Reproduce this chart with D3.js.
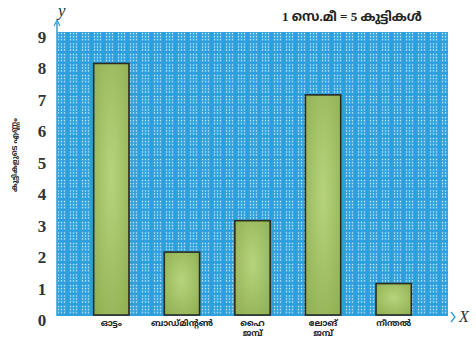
<!DOCTYPE html>
<html>
<head>
<meta charset="utf-8">
<script src="https://cdnjs.cloudflare.com/ajax/libs/d3/7.8.5/d3.min.js"></script>
<style>
  body { margin: 0; background: #fff; }
  svg { display: block; }
</style>
</head>
<body>
<svg width="476" height="340"></svg>
<script>
// chart data
var categories = ["ഓട്ടം", "ബാഡ്മിന്റൺ", "ഹൈ\nജമ്പ്", "ലോങ്\nജമ്പ്", "നീന്തൽ"];
var values = [8, 2, 3, 7, 1];
var yTicks = [0, 1, 2, 3, 4, 5, 6, 7, 8, 9];
var yLabel = "കുട്ടികളുടെ എണ്ണം";
var scaleNote = "1 സെ.മീ = 5 കുട്ടികൾ";

var svg = d3.select("svg");
var plotLeft = 57, plotRight = 448, plotTop = 32, plotBottom = 315;

var x = d3.scaleBand()
    .domain(categories)
    .range([plotLeft, plotRight])
    .paddingInner(0.5)
    .paddingOuter(0.52);

var y = d3.scaleLinear()
    .domain([0, 9])
    .range([plotBottom, plotTop]);

var defs = svg.append("defs");

// blue dotted graph-paper look
var pat = defs.append("pattern")
    .attr("id", "grid")
    .attr("patternUnits", "userSpaceOnUse")
    .attr("width", 12).attr("height", 10.5)
    .attr("x", plotLeft).attr("y", plotTop);
pat.append("rect").attr("width", 12).attr("height", 10.5).attr("fill", "#2c9fdc");
[1.5, 4.5, 7.5].forEach(function(px) {
    [1.5, 4.5, 7.5].forEach(function(py) {
        pat.append("rect").attr("x", px - 0.7).attr("y", py - 0.7)
            .attr("width", 1.4).attr("height", 1.4).attr("fill", "#cfe9f7");
    });
});

var grad = defs.append("radialGradient").attr("id", "barFill")
    .attr("cx", "50%").attr("cy", "45%").attr("r", "70%");
grad.append("stop").attr("offset", "0%").attr("stop-color", "#b7d47c");
grad.append("stop").attr("offset", "100%").attr("stop-color", "#90b052");

svg.append("rect")
    .attr("x", plotLeft).attr("y", plotTop)
    .attr("width", plotRight - plotLeft).attr("height", plotBottom - plotTop + 1)
    .attr("fill", "url(#grid)");

// bars
svg.selectAll(".bar")
    .data(values)
    .enter()
    .append("rect")
    .attr("class", "bar")
    .attr("x", function(d, i) { return x(categories[i]); })
    .attr("y", function(d) { return y(d); })
    .attr("width", x.bandwidth())
    .attr("height", function(d) { return y(0) - y(d); })
    .attr("fill", "url(#barFill)")
    .attr("stroke", "#2b2b22")
    .attr("stroke-width", 1.6);

// y axis line + arrow
svg.append("line")
    .attr("x1", plotLeft).attr("x2", plotLeft)
    .attr("y1", plotBottom + 1).attr("y2", 22)
    .attr("stroke", "#2c9fdc").attr("stroke-width", 1.5);
svg.append("path")
    .attr("d", "M" + (plotLeft - 3) + ",26 L" + plotLeft + ",20 L" + (plotLeft + 3) + ",26")
    .attr("fill", "none").attr("stroke", "#2c9fdc").attr("stroke-width", 1.2);
svg.append("text")
    .attr("x", plotLeft + 1).attr("y", 16)
    .attr("font-family", "Liberation Serif").attr("font-style", "italic")
    .attr("font-size", 17).attr("fill", "#333")
    .text("y");

// x axis arrow
svg.append("path")
    .attr("d", "M451,312 L455,317 L451,322")
    .attr("fill", "none").attr("stroke", "#2c9fdc").attr("stroke-width", 1.3);
svg.append("text")
    .attr("x", 459).attr("y", 322)
    .attr("font-family", "Liberation Serif").attr("font-style", "italic")
    .attr("font-size", 16).attr("fill", "#333")
    .text("X");

// y tick labels
svg.selectAll(".ytick")
    .data(yTicks)
    .enter()
    .append("text")
    .attr("class", "ytick")
    .attr("x", 42)
    .attr("y", function(d) { return y(d) + 11; })
    .attr("text-anchor", "middle")
    .attr("font-family", "Liberation Serif").attr("font-weight", "bold")
    .attr("font-size", 17).attr("fill", "#333")
    .text(function(d) { return d; });

// category labels (one text per line)
categories.forEach(function(c) {
    c.split("\n").forEach(function(l, i) {
        svg.append("text")
            .attr("x", x(c) + x.bandwidth() / 2)
            .attr("y", 326 + i * 10)
            .attr("text-anchor", "middle")
            .attr("font-family", "'Noto Sans Malayalam', 'Noto Sans', sans-serif")
            .attr("font-weight", "bold")
            .attr("font-size", 8.5).attr("fill", "#222")
            .text(l);
    });
});

// y axis title
svg.append("text")
    .attr("transform", "translate(17,155) rotate(-90)")
    .attr("text-anchor", "middle")
    .attr("font-family", "'Noto Sans Malayalam', 'Noto Sans', sans-serif")
    .attr("font-weight", "bold")
    .attr("font-size", 7.5).attr("fill", "#222")
    .text(yLabel);

// scale note
svg.append("text")
    .attr("x", 352).attr("y", 21)
    .attr("text-anchor", "middle")
    .attr("font-family", "Liberation Serif, 'Noto Sans Malayalam', serif")
    .attr("font-weight", "bold")
    .attr("font-size", 13).attr("fill", "#222")
    .text(scaleNote);
</script>
</body>
</html>
